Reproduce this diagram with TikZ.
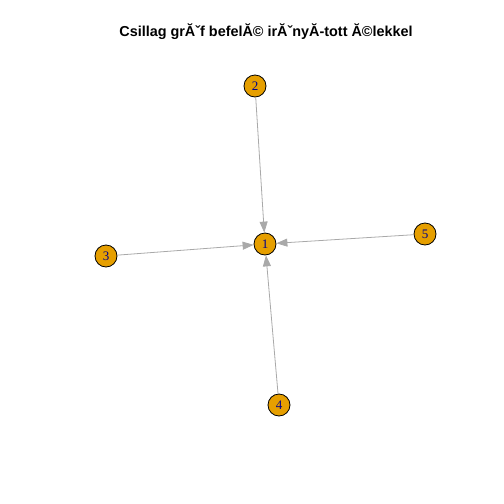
\documentclass[tikz,border=0pt]{standalone}
\usepackage{fontspec}
\setmainfont{Liberation Serif}
\newfontfamily\titlefont{Liberation Sans}
\usetikzlibrary{arrows.meta}
\definecolor{vfill}{RGB}{230,159,0}
\definecolor{edgegray}{RGB}{169,169,169}
\definecolor{labblue}{RGB}{0,0,139}
\tikzset{
  vert/.style={circle,draw=black,fill=vfill,line width=0.8pt,minimum size=22pt,inner sep=0pt,text=labblue,font=\fontsize{13}{13}\selectfont},
  edge/.style={draw=edgegray,line width=0.8pt,-{Triangle[length=11pt,width=8pt]}}
}
\begin{document}
\begin{tikzpicture}[x=1pt,y=-1pt]
\useasboundingbox (0,0) rectangle (504,504);
\node[font=\titlefont\bfseries\fontsize{14.4}{15}\selectfont] (title) at (266,32) {Csillag grĂˇf befelĂ© irĂˇnyĂ-tott Ă©lekkel};
\node[vert] (n1) at (265,244) {1};
\node[vert] (n2) at (255,86) {2};
\node[vert] (n3) at (106,256) {3};
\node[vert] (n4) at (279,405) {4};
\node[vert] (n5) at (425,234) {5};
\draw[edge] (n2) -- (n1);
\draw[edge] (n3) -- (n1);
\draw[edge] (n4) -- (n1);
\draw[edge] (n5) -- (n1);
\end{tikzpicture}
\end{document}
